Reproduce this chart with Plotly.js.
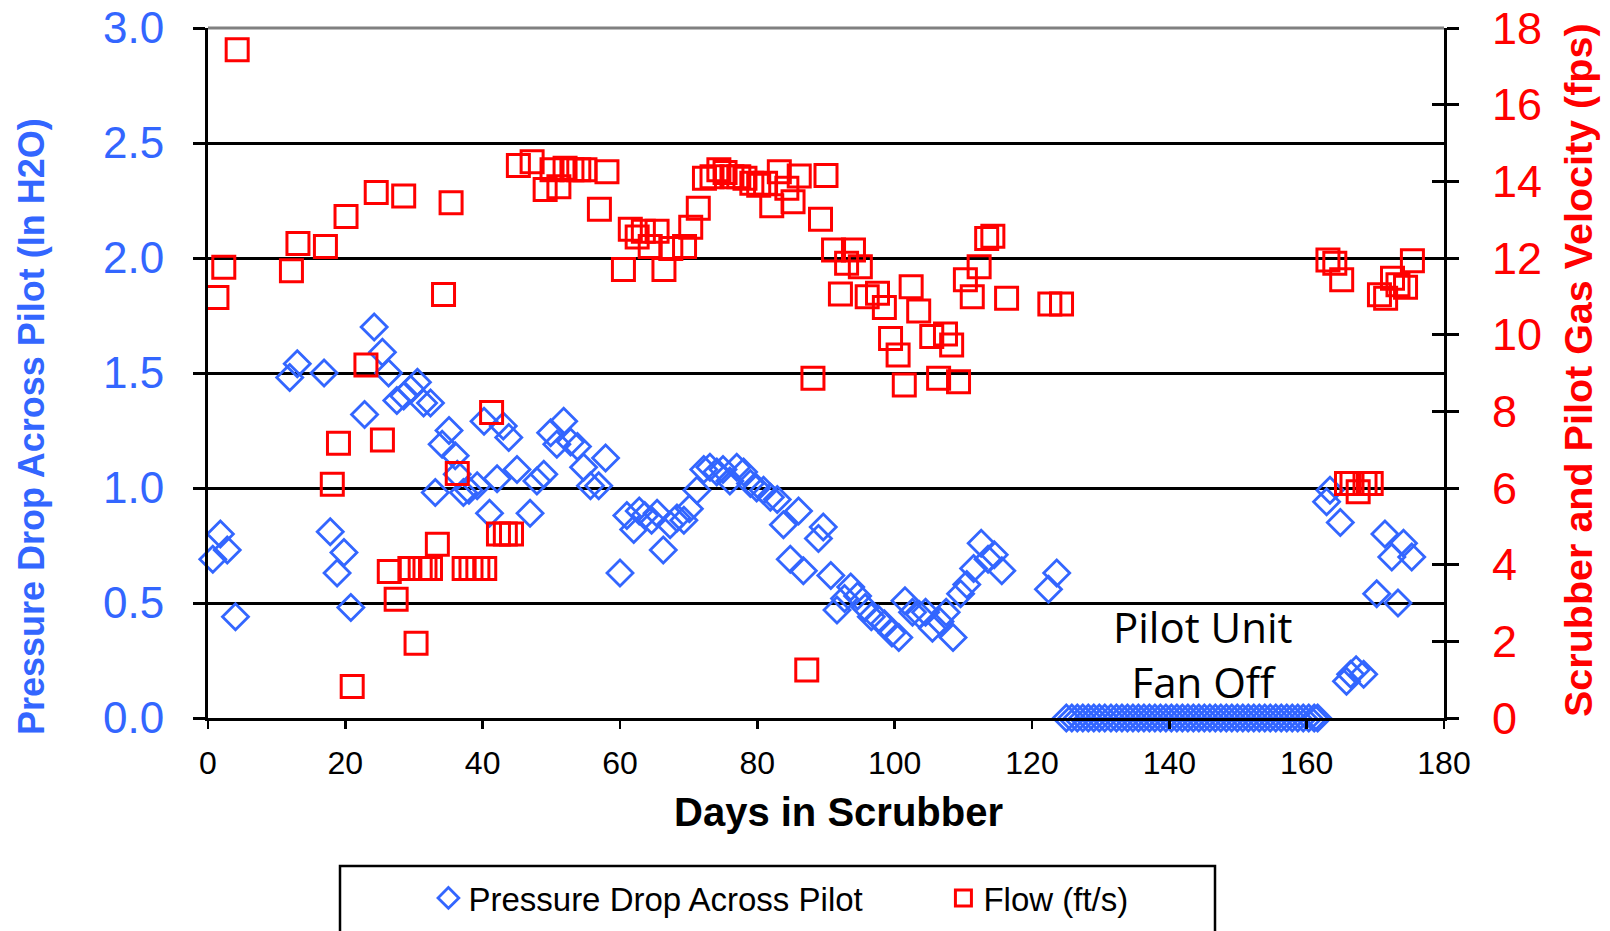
<!DOCTYPE html>
<html>
<head>
<meta charset="utf-8">
<script src="https://cdn.plot.ly/plotly-3.0.1.min.js"></script>
<style>
  html, body { margin: 0; padding: 0; background: #ffffff; }
  #chart { width: 1610px; height: 931px; }
</style>
</head>
<body>
<div id="chart"></div>
<script>
// ---- Data ----
const pressureDays = [0.7, 1.8, 2.8, 4.0, 11.9, 13.0, 16.9, 17.8, 18.8, 19.8, 20.8, 22.8, 24.2, 25.4,
  26.3, 27.5, 28.5, 29.5, 30.5, 31.4, 32.4, 33.1, 34.1, 35.1, 36.0, 36.3, 37.2, 38.0, 39.2, 40.2,
  41.0, 42.1, 43.0, 43.8, 45.0, 46.9, 47.9, 48.9, 49.9, 50.8, 51.8, 52.8, 53.8, 54.7, 55.7, 56.9,
  57.9, 60.0, 61.0, 62.0, 62.8, 63.6, 64.6, 65.4, 66.3, 67.3, 68.3, 69.3, 70.1, 71.2, 72.2, 73.1,
  74.1, 75.0, 76.0, 77.0, 78.0, 79.0, 79.9, 80.9, 81.9, 82.9, 83.8, 84.8, 86.0, 86.7, 88.9, 89.6,
  90.7, 91.6, 92.7, 93.6, 94.6, 95.7, 96.6, 97.6, 98.5, 99.6, 100.6, 101.5, 102.6, 103.6, 104.5,
  105.5, 106.6, 107.5, 108.5, 109.6, 110.5, 111.5, 112.6, 113.6, 114.5, 115.6, 122.4, 123.6,
  162.9, 163.4, 164.9, 165.8, 166.4, 167.2, 168.3, 170.2, 171.4, 172.4, 173.3, 174.1, 175.3];
const pressureValues = [0.69, 0.80, 0.73, 0.44, 1.48, 1.54, 1.50, 0.81, 0.63, 0.72, 0.48, 1.32, 1.70, 1.59,
  1.50, 1.38, 1.40, 1.43, 1.46, 1.37, 1.37, 0.98, 1.19, 1.25, 1.14, 1.06, 0.98, 0.99, 1.01, 1.29,
  0.89, 1.04, 1.27, 1.22, 1.08, 0.89, 1.03, 1.06, 1.24, 1.19, 1.29, 1.20, 1.18, 1.09, 1.01, 1.01,
  1.13, 0.63, 0.88, 0.82, 0.90, 0.88, 0.86, 0.89, 0.73, 0.84, 0.87, 0.86, 0.91, 0.99, 1.08, 1.09,
  1.07, 1.08, 1.03, 1.09, 1.07, 1.02, 1.00, 0.99, 0.96, 0.95, 0.84, 0.69, 0.90, 0.64, 0.78, 0.83,
  0.62, 0.47, 0.52, 0.57, 0.53, 0.48, 0.44, 0.43, 0.41, 0.37, 0.35, 0.51, 0.46, 0.45, 0.46,
  0.39, 0.42, 0.46, 0.35, 0.54, 0.58, 0.65, 0.76, 0.69, 0.71, 0.64, 0.56, 0.63,
  0.94, 0.99, 0.85, 0.16, 0.19, 0.21, 0.19, 0.54, 0.80, 0.70, 0.50, 0.76, 0.70];
const fanOffDays = [125.0, 125.8, 126.6, 127.4, 128.2, 129.0, 129.8, 130.6, 131.5, 132.3, 133.1, 133.9,
  134.7, 135.5, 136.3, 137.1, 137.9, 138.7, 139.5, 140.3, 141.1, 141.9, 142.7, 143.5, 144.3, 145.1,
  145.9, 146.7, 147.5, 148.3, 149.1, 149.9, 150.7, 151.5, 152.3, 153.1, 153.9, 154.7, 155.5, 156.3,
  157.1, 157.9, 158.7, 159.5, 160.3, 161.1, 161.6];
const fanOffValues = [0, 0, 0, 0, 0, 0, 0, 0, 0, 0, 0, 0, 0, 0, 0, 0, 0, 0, 0, 0, 0, 0, 0, 0, 0, 0,
  0, 0, 0, 0, 0, 0, 0, 0, 0, 0, 0, 0, 0, 0, 0, 0, 0, 0, 0, 0, 0];

const flowDays = [1.3, 2.3, 4.25, 12.15, 13.1, 17.1, 18.1, 19.0, 20.1, 21.0, 23.0, 24.5, 25.4, 26.4,
  27.4, 28.5, 29.4, 30.3, 30.9, 31.6, 32.4, 33.4, 34.3, 35.4, 36.3, 37.3, 38.3, 39.3, 40.3, 41.3,
  42.3, 43.3, 44.2, 45.2, 47.2, 49.1, 50.1, 51.1, 52.0, 53.0, 54.0, 54.9, 57.0, 58.1, 60.5, 61.5,
  62.5, 63.4, 64.4, 65.4, 66.4, 67.4, 69.4, 70.3, 71.4, 72.3, 73.4, 74.4, 75.3, 76.3, 77.3, 78.2,
  79.2, 80.2, 81.2, 82.1, 83.2, 84.3, 85.2, 86.1, 87.2, 88.1, 89.2, 90.0, 91.1, 92.1, 93.0, 94.0,
  95.0, 96.0, 97.5, 98.5, 99.4, 100.5, 101.4, 102.4, 103.5, 105.4, 106.4, 107.4, 108.3, 109.3,
  110.3, 111.3, 112.3, 113.4, 114.3, 116.3, 122.6, 124.3, 163.1, 164.1, 165.1, 165.8, 166.6,
  167.5, 168.5, 169.4, 170.6, 171.5, 172.5, 173.3, 174.4, 175.4];
const flowValues = [10.97, 11.76, 17.43, 11.67, 12.38, 12.30, 6.10, 7.17, 13.08, 0.82, 9.21, 13.71, 7.25, 3.82,
  3.10, 13.62, 3.90, 1.95, 3.90, 3.90, 3.90, 4.53, 11.05, 13.44, 6.38, 3.90, 3.90, 3.90, 3.90, 7.97,
  4.80, 4.80, 4.80, 14.41, 14.51, 13.79, 14.30, 13.86, 14.34, 14.30, 14.30, 14.30, 13.27, 14.25, 11.70, 12.75,
  12.55, 12.70, 12.30, 12.70, 11.70, 12.25, 12.30, 12.80, 13.30, 14.08, 14.12, 14.30, 14.23, 14.12, 14.12, 14.08,
  13.95, 13.90, 13.95, 13.36, 14.25, 13.82, 13.47, 14.14, 1.25, 8.86, 13.01, 14.15, 12.21, 11.06, 11.86, 12.21,
  11.77, 10.99, 11.08, 10.71, 9.90, 9.47, 8.69, 11.25, 10.62, 9.95, 8.86, 10.02, 9.73, 8.77,
  11.43, 10.99, 11.77, 12.51, 12.57, 10.95, 10.80, 10.80, 11.95, 11.86, 11.43, 6.12, 6.12,
  5.90, 6.12, 6.12, 11.04, 10.95, 11.47, 11.30, 11.24, 11.93];

const xTickValues = [0, 20, 40, 60, 80, 100, 120, 140, 160, 180];
const leftTickValues = [0, 0.5, 1.0, 1.5, 2.0, 2.5, 3.0];
const rightTickValues = [0, 2, 4, 6, 8, 10, 12, 14, 16, 18];

// ---- Styling ----
const BLUE = '#3366FF';
const RED = '#FF0000';
const SANS = 'Liberation Sans, Arial, sans-serif';
const PLOT_W = 1236, PLOT_H = 690, M_L = 208, M_T = 28;
const px2paperX = (px) => (px - M_L) / PLOT_W;
const px2paperY = (py) => (M_T + PLOT_H - py) / PLOT_H;

const pressureTrace = {
  name: 'Pressure Drop Across Pilot',
  x: pressureDays.concat(fanOffDays),
  y: pressureValues.concat(fanOffValues),
  type: 'scatter', mode: 'markers',
  xaxis: 'x', yaxis: 'y',
  cliponaxis: false,
  marker: { symbol: 'diamond-open', size: 20, color: BLUE, line: { color: BLUE, width: 2.8 } }
};
const flowTrace = {
  name: 'Flow (ft/s)',
  x: flowDays, y: flowValues,
  type: 'scatter', mode: 'markers',
  xaxis: 'x', yaxis: 'y2',
  marker: { symbol: 'square-open', size: 22, color: RED, line: { color: RED, width: 3 } }
};
const helperTrace = { x: [0], y: [0], xaxis: 'x', yaxis: 'y3', type: 'scatter', mode: 'markers',
  marker: { opacity: 0 }, showlegend: false, hoverinfo: 'skip' };

const layout = {
  width: 1610, height: 931,
  paper_bgcolor: '#ffffff', plot_bgcolor: '#ffffff',
  margin: { l: M_L, r: 1610 - M_L - PLOT_W, t: M_T, b: 931 - M_T - PLOT_H, autoexpand: false },
  showlegend: true,
  legend: {
    orientation: 'h', x: 0.595, xanchor: 'center', yref: 'container', y: 1 - 870 / 931, yanchor: 'top',
    font: { family: SANS, size: 33, color: '#000000' },
    entrywidth: 470, itemwidth: 30, bgcolor: 'rgba(0,0,0,0)', borderwidth: 0
  },
  xaxis: {
    range: [0, 180], tickvals: xTickValues, ticks: 'outside', ticklen: 8, tickwidth: 2.5, tickcolor: '#000',
    showline: true, linecolor: '#000', linewidth: 3, showgrid: false, zeroline: false,
    tickfont: { family: SANS, size: 32, color: '#000' }, ticklabelstandoff: 7
  },
  yaxis: {
    range: [0, 3], tickvals: leftTickValues, tickformat: '.1f', ticks: 'outside', ticklen: 12, tickwidth: 3, tickcolor: '#000',
    showline: true, linecolor: '#000', linewidth: 3, showgrid: true, gridcolor: '#000', gridwidth: 3, zeroline: false,
    tickfont: { family: SANS, size: 44, color: BLUE }, ticklabelstandoff: 20
  },
  yaxis2: {
    range: [0, 18], tickvals: rightTickValues, overlaying: 'y', side: 'right', ticks: 'outside', ticklen: 12, tickwidth: 3, tickcolor: '#000',
    showline: true, linecolor: '#000', linewidth: 3, showgrid: false, zeroline: false,
    tickfont: { family: SANS, size: 45, color: RED }, ticklabelstandoff: 24
  },
  yaxis3: {
    range: [0, 18], tickvals: rightTickValues, overlaying: 'y', side: 'right', ticks: 'inside', ticklen: 12, tickwidth: 3, tickcolor: '#000',
    showline: false, showgrid: false, zeroline: false, showticklabels: false
  },
  shapes: [
    { type: 'line', xref: 'paper', yref: 'paper', x0: 0, x1: 1, y0: 1, y1: 1, line: { color: '#808080', width: 3 }, layer: 'above' },
    { type: 'rect', xref: 'paper', yref: 'paper', x0: px2paperX(340), x1: px2paperX(1215), y0: px2paperY(866), y1: px2paperY(960),
      line: { color: '#000', width: 2.5 }, fillcolor: 'rgba(0,0,0,0)' }
  ],
  annotations: [
    { text: 'Pilot Unit<br>Fan Off', x: 144.9, y: 0.28, xref: 'x', yref: 'y', showarrow: false,
      font: { family: 'Open Sans, sans-serif', size: 42, color: '#000' }, align: 'center' },
    { text: '<b>Days in Scrubber</b>', xref: 'paper', yref: 'paper', x: px2paperX(838), y: px2paperY(812),
      xanchor: 'center', yanchor: 'middle', showarrow: false,
      font: { family: SANS, size: 40, color: '#000' } },
    { text: '<b>Pressure Drop Across Pilot (In H2O)</b>', xref: 'paper', yref: 'paper', x: px2paperX(31), y: px2paperY(427),
      xanchor: 'center', yanchor: 'middle', textangle: -90, showarrow: false,
      font: { family: SANS, size: 36, color: BLUE } },
    { text: '<b>Scrubber and Pilot Gas Velocity (fps)</b>', xref: 'paper', yref: 'paper', x: px2paperX(1578), y: px2paperY(370),
      xanchor: 'center', yanchor: 'middle', textangle: -90, showarrow: false,
      font: { family: SANS, size: 39.5, color: RED } }
  ]
};

Plotly.newPlot('chart', [pressureTrace, flowTrace, helperTrace], layout, { displayModeBar: false, staticPlot: true });
</script>
</body>
</html>
